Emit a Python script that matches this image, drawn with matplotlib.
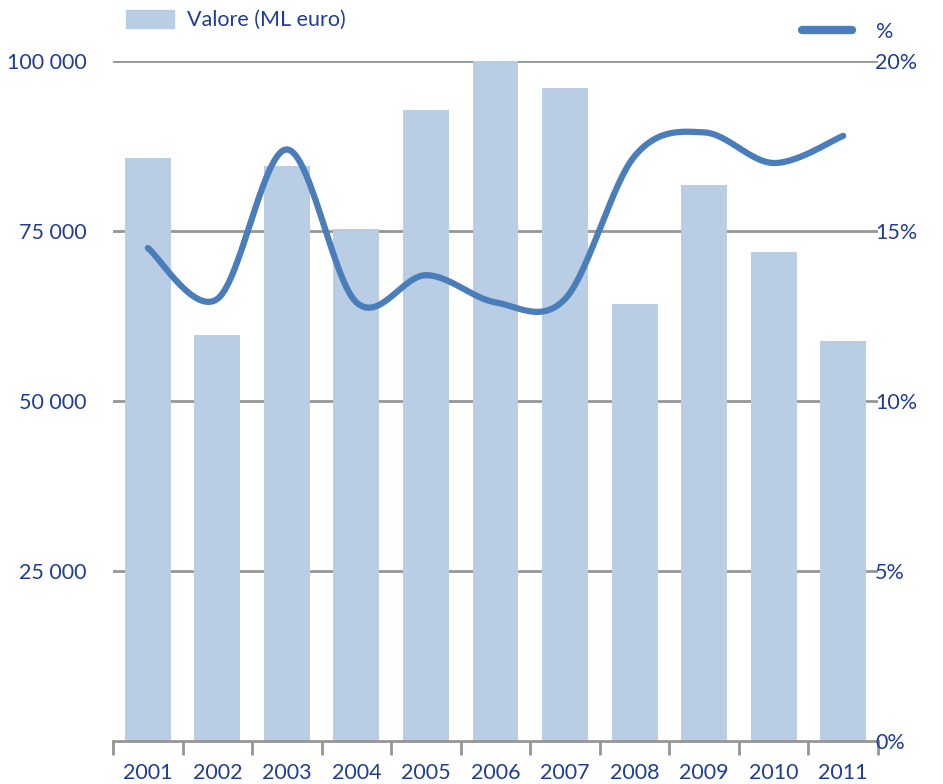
import matplotlib
matplotlib.use("Agg")
import matplotlib.pyplot as plt
import numpy as np
from matplotlib.patches import Patch
from matplotlib.lines import Line2D

anni = ['2001', '2002', '2003', '2004', '2005', '2006', '2007', '2008', '2009', '2010', '2011']
valore = [85700, 59700, 84600, 75300, 92800, 100000, 96000, 64300, 81800, 71900, 58800]
perc = [14.5, 13.0, 17.4, 12.9, 13.7, 12.9, 13.0, 17.2, 17.9, 17.0, 17.8]

blu = '#1F3D99'
barra = '#B9CDE5'
linea = '#4A7EBB'
grigio = '#969696'

plt.rcParams['font.family'] = ['Lato', 'DejaVu Sans']
fs = 15.5

fig = plt.figure(figsize=(9.43, 7.84), dpi=100)
ax = fig.add_axes([113/943, 1-741/784, 765/943, 680/784])

x = np.arange(len(anni))
ax.bar(x, valore, width=0.66, color=barra, zorder=2)
ax.set_xlim(-0.5, len(anni)-0.5)
ax.set_ylim(0, 100000)
ax.set_yticks([25000, 50000, 75000, 100000])
ax.set_yticklabels(['25 000', '50 000', '75 000', '100 000'])
ax.yaxis.grid(True, color=grigio, lw=2)
ax.set_axisbelow(True)
for s in ['left', 'right', 'top']:
    ax.spines[s].set_visible(False)
ax.spines['bottom'].set_color(grigio)
ax.spines['bottom'].set_linewidth(2)
ax.set_xticks(x)
ax.set_xticklabels(anni)
ax.set_xticks(np.arange(-0.5, len(anni), 1), minor=True)
ax.tick_params(axis='x', which='major', length=0, pad=16, labelsize=fs, labelcolor=blu)
ax.tick_params(axis='x', which='minor', length=10, width=2, color=grigio)
ax.tick_params(axis='y', length=0, pad=19, labelsize=fs, labelcolor=blu)

# linea smussata come in Excel (Bezier da Catmull-Rom)
ax2 = ax.twinx()
p = np.column_stack([x, perc]).astype(float)
ext = np.vstack([p[0], p, p[-1]])
t = np.linspace(0, 1, 30)[:, None]
pezzi = []
for i in range(len(p) - 1):
    p0, p3 = ext[i+1], ext[i+2]
    c1 = p0 + (ext[i+2] - ext[i]) / 6
    c2 = p3 - (ext[i+3] - ext[i+1]) / 6
    b = (1-t)**3*p0 + 3*(1-t)**2*t*c1 + 3*(1-t)*t**2*c2 + t**3*p3
    pezzi.append(b)
curva = np.vstack(pezzi)
ax2.plot(curva[:, 0], curva[:, 1], color=linea, lw=4.5, solid_capstyle='round', zorder=3)
ax2.set_ylim(0, 20)
ax2.set_yticks([0, 5, 10, 15, 20])
ax2.set_yticklabels(['0%', '5%', '10%', '15%', '20%'])
ax2.tick_params(axis='y', length=0, pad=-2, labelsize=fs, labelcolor=blu)
for s in ax2.spines.values():
    s.set_visible(False)

l1 = fig.legend(handles=[Patch(color=barra)], labels=['Valore (ML euro)'],
                loc='center left', bbox_to_anchor=(107/943, 1-20/784), frameon=False,
                fontsize=fs, labelcolor=blu, handlelength=2.2, handleheight=0.95, handletextpad=0.6)
l2 = fig.legend(handles=[Line2D([0], [0], color=linea, lw=6, solid_capstyle='round')], labels=['%'],
                loc='center left', bbox_to_anchor=(783/943, 1-32/784), frameon=False,
                fontsize=fs, labelcolor=blu, handlelength=2.3, handletextpad=1.1)

fig.savefig('out.png', dpi=100)
